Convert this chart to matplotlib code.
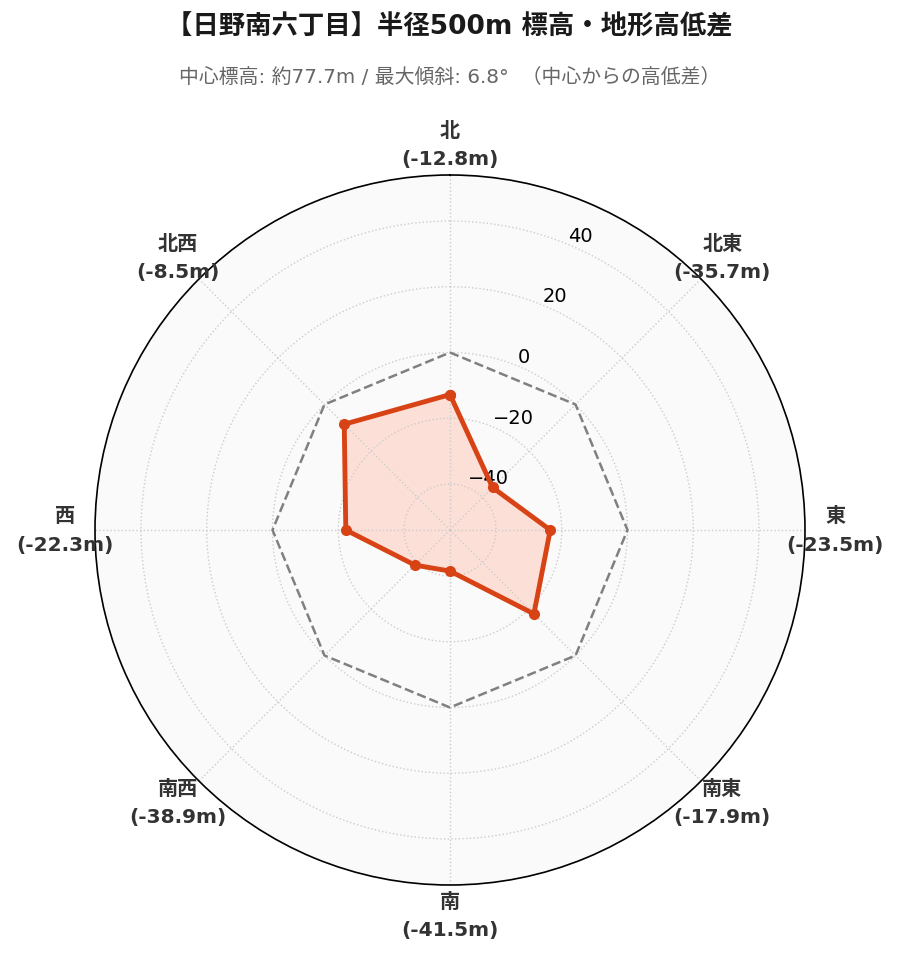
import numpy as np
import matplotlib.pyplot as plt

plt.rcParams['font.family'] = ['DejaVu Sans', 'Noto Sans CJK JP']

# 方角ごとの高低差 (中心からの差, m)
directions = ["北", "北東", "東", "南東", "南", "南西", "西", "北西"]
diffs = [-12.8, -35.7, -23.5, -17.9, -41.5, -38.9, -22.3, -8.5]
rticks = [-40, -20, 0, 20, 40]

title = "【日野南六丁目】半径500m 標高・地形高低差"
subtitle = "中心標高: 約77.7m / 最大傾斜: 6.8°  （中心からの高低差）"

n = len(directions)
angles = np.linspace(0, 2 * np.pi, n, endpoint=False)
ang_c = np.append(angles, angles[0])
val_c = np.append(diffs, diffs[0])

fig = plt.figure(figsize=(8.99, 9.62), dpi=100)
ax = fig.add_axes([95 / 899, 1 - 886 / 962, 710 / 899, 710 / 962], polar=True)
ax.set_theta_zero_location("N")
ax.set_theta_direction(-1)
ax.set_facecolor("#fafafa")

lim = 54
ax.set_ylim(-lim, lim)

# 基準線 (0m)
ax.plot(ang_c, np.zeros(len(ang_c)), "--", color="gray", lw=1.8, zorder=3)

ax.fill(ang_c, val_c, color="#fdd6cc", alpha=0.75, zorder=1)
ax.plot(ang_c, val_c, color="#d84315", lw=3.5, marker="o", ms=7, zorder=4)

ax.set_xticks(angles)
ax.set_xticklabels([])
# 方角ラベル (外周の少し外側に中央揃え)
for a, d, v in zip(angles, directions, diffs):
    ax.text(0.5 + 0.5 * 1.085 * np.sin(a), 0.5 + 0.5 * 1.085 * np.cos(a),
            f"{d}\n({v}m)", transform=ax.transAxes, ha="center", va="center",
            fontsize=14.5, fontweight="bold", color="#333333",
            linespacing=1.6, clip_on=False)

ax.set_yticks(rticks)
ax.tick_params(axis="y", labelsize=14)
ax.set_rlabel_position(22.5)
ax.grid(True, color="#cccccc", linestyle=":", lw=1)
ax.spines["polar"].set_color("black")
ax.spines["polar"].set_linewidth(1.2)

fig.text(0.5, 1 - 27 / 962, title, ha="center", va="center",
         fontsize=19, fontweight="bold", color="#1a1a1a")
fig.text(0.5, 1 - 77 / 962, subtitle, ha="center", va="center",
         fontsize=14.3, color="#666666")

fig.savefig("out.png", dpi=100)
